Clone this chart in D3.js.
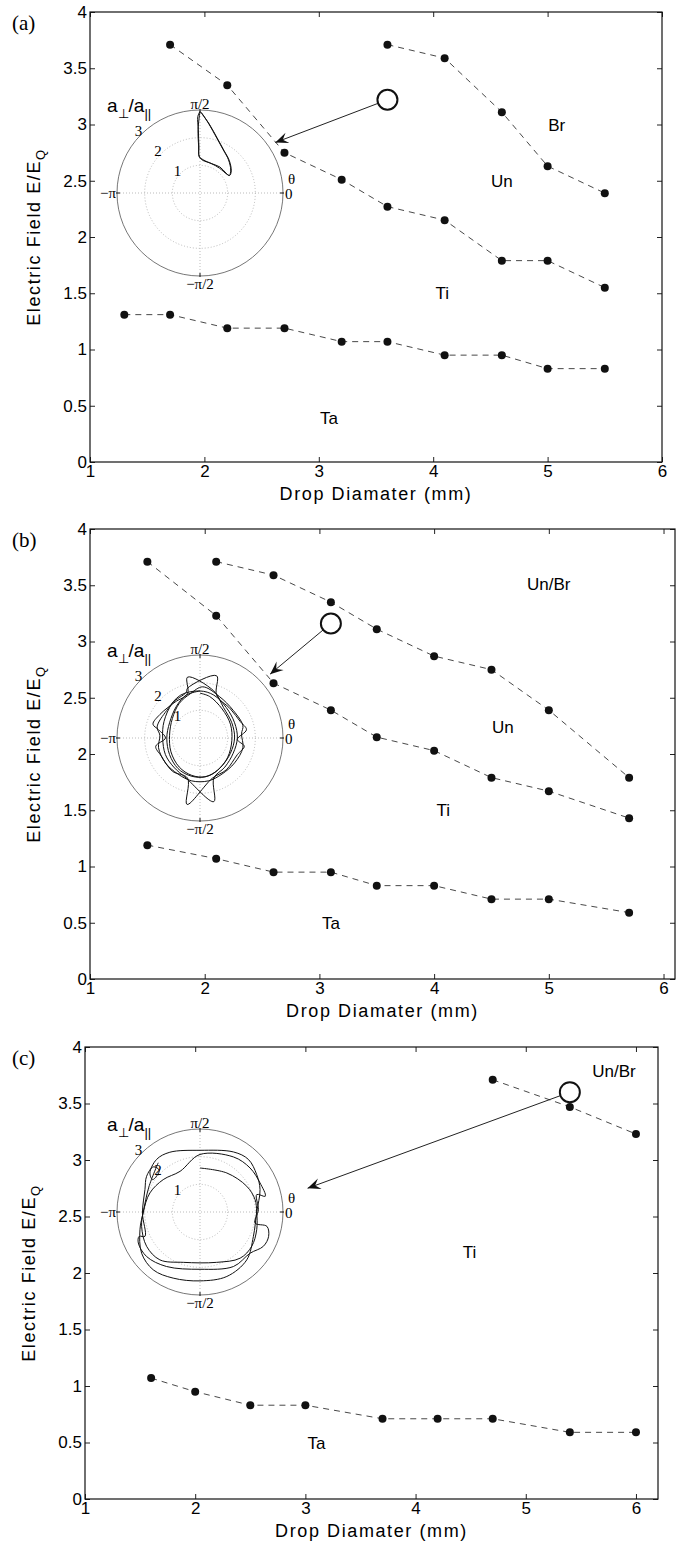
<!DOCTYPE html>
<html lang="en">
<head>
    <meta charset="UTF-8">
    <title>Phase diagram of drops in electric field</title>
    <script src="https://d3js.org/d3.v7.min.js"></script>
    <style>
        body { margin: 0; background: #fff; }
        svg { display: block; }
        .tick text { font-family: "Liberation Sans", Arial, sans-serif; font-size: 17px; fill: #000; }
        .tick line { stroke: #222; }
        .frame { fill: none; stroke: #111; stroke-width: 1.2; }
        .boundary { fill: none; stroke: #333; stroke-width: 0.9; stroke-dasharray: 6,5; }
        .dot { fill: #111; }
        .region { font-family: "Liberation Sans", Arial, sans-serif; font-size: 17px; fill: #000; }
        .title { font-family: "Liberation Sans", Arial, sans-serif; font-size: 18px; letter-spacing: 1.6px; fill: #000; }
        .letter { font-family: "Liberation Serif", "DejaVu Serif", serif; font-size: 21px; fill: #000; }
        .pick { fill: none; stroke: #111; stroke-width: 2; }
        .pointer { stroke: #222; stroke-width: 1; }
        .ring { fill: none; stroke: #aaa; stroke-width: 0.8; stroke-dasharray: 1,2; }
        .rim { fill: none; stroke: #777; stroke-width: 1; }
        .polar-lbl { font-family: "Liberation Serif", "DejaVu Serif", serif; font-size: 15px; fill: #000; }
        .orbit { fill: none; stroke: #111; stroke-width: 1; }
    </style>
</head>
<body>
<script>
    const width = 678;
    const height = 1548;

    // ticks shared by the three panels
    const dTicks = [1, 2, 3, 4, 5, 6];
    const eTicks = [0, 0.5, 1, 1.5, 2, 2.5, 3, 3.5, 4];
    const rTicks = [1, 2, 3];

    // ---- panel (a) boundaries: drop diameter (mm) / field E/EQ
    const aUpperD  = [3.6, 4.1, 4.6, 5.0, 5.5];
    const aUpperE  = [3.71, 3.59, 3.11, 2.63, 2.39];
    const aMiddleD = [1.7, 2.2, 2.7, 3.2, 3.6, 4.1, 4.6, 5.0, 5.5];
    const aMiddleE = [3.71, 3.35, 2.75, 2.51, 2.27, 2.15, 1.79, 1.79, 1.55];
    const aLowerD  = [1.3, 1.7, 2.2, 2.7, 3.2, 3.6, 4.1, 4.6, 5.0, 5.5];
    const aLowerE  = [1.31, 1.31, 1.19, 1.19, 1.07, 1.07, 0.95, 0.95, 0.83, 0.83];
    const aRegions = ["Br", "Un", "Ti", "Ta"];
    const aRegionD = [5.08, 4.6, 4.08, 3.09];
    const aRegionE = [2.99, 2.49, 1.5, 0.39];
    const aPick = [3.6, 3.22], aTarget = [2.62, 2.84];
    // shape trajectory (a_perp/a_par times cos, sin of theta)
    const aOrbitU = [0, -0.08, -0.06, -0.04, -0.03, 0.12, 0.42, 0.72, 0.94, 1.06, 1.11, 1.03, 0.84, 0.61, 0.3, 0.06,
                     0.03, 0.33, 0.64, 0.87, 1.06, 1.13, 1.08, 1.0, 0.7, 0.4, 0.1, -0.02, -0.05, -0.07, 0];
    const aOrbitV = [2.95, 2.76, 2.28, 1.68, 1.32, 1.2, 1.06, 0.94, 0.72, 0.63, 0.83, 1.2, 1.56, 1.98, 2.53, 2.89,
                     2.92, 2.5, 1.95, 1.53, 1.17, 0.8, 0.64, 0.66, 0.9, 1.07, 1.18, 1.3, 1.7, 2.3, 2.95];

    // ---- panel (b)
    const bUpperD  = [2.1, 2.6, 3.1, 3.5, 4.0, 4.5, 5.0, 5.7];
    const bUpperE  = [3.71, 3.59, 3.35, 3.11, 2.87, 2.75, 2.39, 1.79];
    const bMiddleD = [1.5, 2.1, 2.6, 3.1, 3.5, 4.0, 4.5, 5.0, 5.7];
    const bMiddleE = [3.71, 3.23, 2.63, 2.39, 2.15, 2.03, 1.79, 1.67, 1.43];
    const bLowerD  = [1.5, 2.1, 2.6, 3.1, 3.5, 4.0, 4.5, 5.0, 5.7];
    const bLowerE  = [1.19, 1.07, 0.95, 0.95, 0.83, 0.83, 0.71, 0.71, 0.59];
    const bRegions = ["Un/Br", "Un", "Ti", "Ta"];
    const bRegionD = [5.0, 4.6, 4.08, 3.1];
    const bRegionE = [3.51, 2.24, 1.5, 0.49];
    const bPick = [3.1, 3.16], bTarget = [2.57, 2.71];
    const bOrbitU = [0.0, -0.5, -0.85, -1.1, -1.2, -1.1, -0.8, -0.4, 0.05, 0.45, 0.8, 1.1, 1.25, 1.15, 0.85, 0.5,
                     -0.45, -0.45, -0.9, -1.45, -1.7, -1.5, -1.25, -1.6, -1.4, -1.0, -0.45, -0.47, 0.45, 0.95, 1.35, 1.6, 1.35, 1.68, 1.45, 1.1, 0.6, 0.6,
                     -0.45, -0.5, -1.0, -1.3, -1.35, -1.25, -0.95, -0.5, 0.5, 0.5, 0.9, 1.2, 1.35, 1.25, 0.95, 0.5, 0.0,
                     -0.7, -1.2, -1.55, -1.45, -1.5, -1.25, -0.8, -0.3, 0.3, 0.8, 1.25, 1.55, 1.5, 1.55, 1.2, 0.7, 0.1,
                     -0.35, -0.75, -1.0, -1.1, -1.05, -0.75, -0.3, 0.2, 0.65, 1.0, 1.15, 1.1, 0.8, 0.35, 0.0];
    const bOrbitV = [1.7, 1.55, 1.15, 0.55, 0.0, -0.6, -1.1, -1.35, -1.42, -1.3, -1.0, -0.55, 0.0, 0.55, 1.1, 1.7,
                     2.2, 1.6, 1.3, 0.85, 0.5, 0.3, 0.0, -0.3, -0.65, -1.2, -1.45, -2.4, -1.45, -1.15, -0.6, -0.3, -0.05, 0.3, 0.6, 1.05, 1.55, 2.25,
                     1.8, 1.65, 1.25, 0.6, 0.0, -0.6, -1.05, -1.45, -2.3, -1.45, -1.05, -0.55, 0.0, 0.55, 1.1, 1.55, 1.7,
                     1.55, 1.0, 0.4, 0.1, -0.35, -0.9, -1.3, -1.55, -1.55, -1.3, -0.9, -0.35, 0.15, 0.45, 1.0, 1.5, 1.85,
                     1.6, 1.25, 0.7, 0.1, -0.5, -1.05, -1.35, -1.4, -1.15, -0.7, -0.1, 0.5, 1.05, 1.5, 1.62];

    // ---- panel (c)
    const cUpperD = [4.7, 5.4, 6.0];
    const cUpperE = [3.71, 3.47, 3.23];
    const cLowerD = [1.6, 2.0, 2.5, 3.0, 3.7, 4.2, 4.7, 5.4, 6.0];
    const cLowerE = [1.07, 0.95, 0.83, 0.83, 0.71, 0.71, 0.71, 0.59, 0.59];
    const cRegions = ["Un/Br", "Ti", "Ta"];
    const cRegionD = [5.8, 4.49, 3.1];
    const cRegionE = [3.78, 2.18, 0.49];
    const cPick = [5.4, 3.6], cTarget = [3.02, 2.75];
    const cOrbitU = [0, 0.97, 1.69, 1.99, 2.05, 2.05, 1.87, 1.45, 0.6, -0.6, -1.45, -1.93, -2.11, -2.05, -1.81, -1.33, -0.72,
                     0, 1.21, 1.81, 2.17, 2.36, 2.05, 2.11, 1.99, 2.42, 2.48, 2.29, 1.81, 1.21, 0, -1.21, -1.93, -2.23, -2.2, -1.99, -2.08,
                     -1.99, -1.93, -1.69, -1.47, -1.71, -1.81, -1.57, -1.09, 0, 1.21, 1.75, 2.05, 2.17, 2.05, 1.93, 1.69, 0.97, 0,
                     -0.97, -1.69, -2.11, -2.17, -2.05, -1.85, -1.51];
    const cOrbitV = [1.59, 1.41, 0.93, 0.45, 0, -0.64, -1.24, -1.67, -1.82, -1.82, -1.73, -1.24, -0.52, 0, 0.69, 1.17, 1.47,
                     2.08, 1.99, 1.59, 1.05, 0.57, 0.63, 0.08, -0.4, -0.52, -0.88, -1.24, -1.49, -1.97, -2.07, -1.97, -1.61, -1.12, -0.88, -0.88, -0.04,
                     0.81, 1.29, 1.63, 1.51, 1.17, 1.41, 1.9, 2.16, 2.23, 2.17, 1.9, 1.35, 0.81, 0, -0.88, -1.73, -2.33, -2.49,
                     -2.39, -2.09, -1.49, -0.64, 0, 0.9, 1.78];

    const svg = d3.select("body").append("svg")
            .attr("width", width).attr("height", height);

    svg.append("defs").append("marker")
        .attr("id", "head")
        .attr("viewBox", "-14 -7 16 14")
        .attr("refX", 0).attr("refY", 0)
        .attr("markerWidth", 16).attr("markerHeight", 14)
        .attr("markerUnits", "userSpaceOnUse")
        .attr("orient", "auto")
        .append("path")
        .attr("d", "M0,0 L-13,-5.5 L-8,0 L-13,5.5 Z")
        .attr("fill", "#111");

    const panels = [
        {letter: "(a)", left: 90, right: 662, top: 12, bottom: 462, dMax: 6, center: [200, 193],
         lines: [[aUpperD, aUpperE], [aMiddleD, aMiddleE], [aLowerD, aLowerE]],
         regions: [aRegions, aRegionD, aRegionE], pick: aPick, target: aTarget, orbit: [aOrbitU, aOrbitV], orbitW: 2},
        {letter: "(b)", left: 90, right: 675, top: 529, bottom: 979, dMax: 6.1, center: [200, 738],
         lines: [[bUpperD, bUpperE], [bMiddleD, bMiddleE], [bLowerD, bLowerE]],
         regions: [bRegions, bRegionD, bRegionE], pick: bPick, target: bTarget, orbit: [bOrbitU, bOrbitV], orbitW: 0.8},
        {letter: "(c)", left: 85, right: 658, top: 1047, bottom: 1499, dMax: 6.2, center: [200, 1212],
         lines: [[cUpperD, cUpperE], [cLowerD, cLowerE]],
         regions: [cRegions, cRegionD, cRegionE], pick: cPick, target: cTarget, orbit: [cOrbitU, cOrbitV], orbitW: 1}
    ];

    panels.forEach(draw);

    function draw(p) {
        const x = d3.scaleLinear().domain([1, p.dMax]).range([p.left, p.right]);
        const y = d3.scaleLinear().domain([0, 4]).range([p.bottom, p.top]);
        const g = svg.append("g");

        // axes, ticks pointing inward on all four sides
        g.append("g").attr("transform", `translate(0,${p.bottom})`)
            .call(d3.axisBottom(x).tickValues(dTicks).tickFormat(d3.format("d"))
                .tickSizeInner(-5).tickSizeOuter(0).tickPadding(3));
        g.append("g").attr("transform", `translate(0,${p.top})`)
            .call(d3.axisTop(x).tickValues(dTicks).tickFormat("")
                .tickSizeInner(-5).tickSizeOuter(0));
        g.append("g").attr("transform", `translate(${p.left},0)`)
            .call(d3.axisLeft(y).tickValues(eTicks).tickFormat(d3.format("~g"))
                .tickSizeInner(-5).tickSizeOuter(0).tickPadding(3));
        g.append("g").attr("transform", `translate(${p.right},0)`)
            .call(d3.axisRight(y).tickValues(eTicks).tickFormat("")
                .tickSizeInner(-5).tickSizeOuter(0));
        g.selectAll(".domain").remove();
        g.append("rect").attr("class", "frame")
            .attr("x", p.left).attr("y", p.top)
            .attr("width", p.right - p.left).attr("height", p.bottom - p.top);

        // axis titles
        g.append("text").attr("class", "title")
            .attr("x", (p.left + p.right) / 2).attr("y", p.bottom + 38)
            .attr("text-anchor", "middle")
            .text("Drop Diamater (mm)");
        const yt = g.append("text").attr("class", "title")
            .attr("transform", `translate(${p.left - 50},${(p.top + p.bottom) / 2}) rotate(-90)`)
            .attr("text-anchor", "middle");
        yt.append("tspan").text("Electric Field E/E");
        yt.append("tspan").attr("dy", 5).attr("font-size", 13).text("Q");

        g.append("text").attr("class", "letter")
            .attr("x", 12).attr("y", p.top + 18)
            .text(p.letter);

        // boundaries between regimes
        const line = d3.line().x(d => x(d[0])).y(d => y(d[1]));
        p.lines.forEach(([ds, es]) => {
            const pts = ds.map((d, i) => [d, es[i]]);
            g.append("path").attr("class", "boundary").attr("d", line(pts));
            g.selectAll(null).data(pts).enter().append("circle")
                .attr("class", "dot")
                .attr("cx", d => x(d[0])).attr("cy", d => y(d[1]))
                .attr("r", 4);
        });

        const [names, rd, re] = p.regions;
        g.selectAll(null).data(names).enter().append("text")
            .attr("class", "region")
            .attr("x", (d, i) => x(rd[i])).attr("y", (d, i) => y(re[i]))
            .attr("text-anchor", "middle").attr("dominant-baseline", "central")
            .text(d => d);

        // picked point and arrow to the inset
        const cx = x(p.pick[0]), cy = y(p.pick[1]);
        const tx = x(p.target[0]), ty = y(p.target[1]);
        const ang = Math.atan2(ty - cy, tx - cx);
        g.append("line").attr("class", "pointer")
            .attr("x1", cx + 10 * Math.cos(ang)).attr("y1", cy + 10 * Math.sin(ang))
            .attr("x2", tx).attr("y2", ty)
            .attr("marker-end", "url(#head)");
        g.append("circle").attr("class", "pick")
            .attr("cx", cx).attr("cy", cy).attr("r", 10);

        drawPolar(g, p);
    }

    function drawPolar(g, p) {
        const R = 83;
        const r = d3.scaleLinear().domain([0, 3]).range([0, R]);
        const u = d3.scaleLinear().domain([-3, 3]).range([-R, R]);
        const v = d3.scaleLinear().domain([-3, 3]).range([R, -R]);
        const pg = g.append("g").attr("transform", `translate(${p.center[0]},${p.center[1]})`);

        pg.append("circle").attr("r", R).attr("fill", "#fff").attr("stroke", "none");
        pg.selectAll(null).data(rTicks.slice(0, 2)).enter().append("circle")
            .attr("class", "ring").attr("r", d => r(d));
        pg.append("line").attr("class", "ring").attr("x1", -R).attr("x2", R);
        pg.append("line").attr("class", "ring").attr("y1", -R).attr("y2", R);
        pg.append("circle").attr("class", "rim").attr("r", r(3));
        // small ticks where the axes hit the rim
        [[0, -1], [0, 1], [-1, 0], [1, 0]].forEach(([a, b]) => {
            pg.append("line").attr("stroke", "#111").attr("stroke-width", 1)
                .attr("x1", a * (R - 3)).attr("y1", b * (R - 3))
                .attr("x2", a * (R + 1)).attr("y2", b * (R + 1));
        });

        const orbit = d3.line().curve(d3.curveCatmullRom.alpha(0.5))
            .x(d => u(d[0])).y(d => v(d[1]));
        const [ou, ov] = p.orbit;
        pg.append("path").attr("class", "orbit")
            .attr("stroke-width", p.orbitW)
            .attr("d", orbit(ou.map((d, i) => [d, ov[i]])));

        // angle and radius labels
        pg.append("text").attr("class", "polar-lbl").attr("text-anchor", "middle")
            .attr("y", -R - 1).text("\u03c0/2");
        pg.append("text").attr("class", "polar-lbl").attr("text-anchor", "middle")
            .attr("y", R + 13).text("\u2212\u03c0/2");
        pg.append("text").attr("class", "polar-lbl").attr("text-anchor", "end")
            .attr("x", -R - 1).attr("y", 5).text("\u2212\u03c0");
        pg.append("text").attr("class", "polar-lbl").attr("text-anchor", "start")
            .attr("x", R + 2).attr("y", 6).text("0");
        pg.append("text").attr("class", "polar-lbl").attr("font-size", 24)
            .attr("x", R + 5).attr("y", -9).text("\u03b8");
        pg.selectAll(null).data(rTicks).enter().append("text")
            .attr("class", "polar-lbl").attr("text-anchor", "middle")
            .attr("x", d => -(r(d) + 4) * Math.SQRT1_2)
            .attr("y", d => -(r(d) + 4) * Math.SQRT1_2 + 5)
            .text(d => d);
        const lab = pg.append("text")
            .attr("x", -93).attr("y", -R + 2)
            .attr("font-family", "Liberation Sans, Arial, sans-serif")
            .attr("font-size", 19).attr("fill", "#000");
        lab.append("tspan").text("a");
        lab.append("tspan").attr("dy", 6).attr("font-size", 13).text("\u22a5");
        lab.append("tspan").attr("dy", -6).text("/a");
        lab.append("tspan").attr("dy", 6).attr("font-size", 13).text("||");
    }
</script>

</body>
</html>
